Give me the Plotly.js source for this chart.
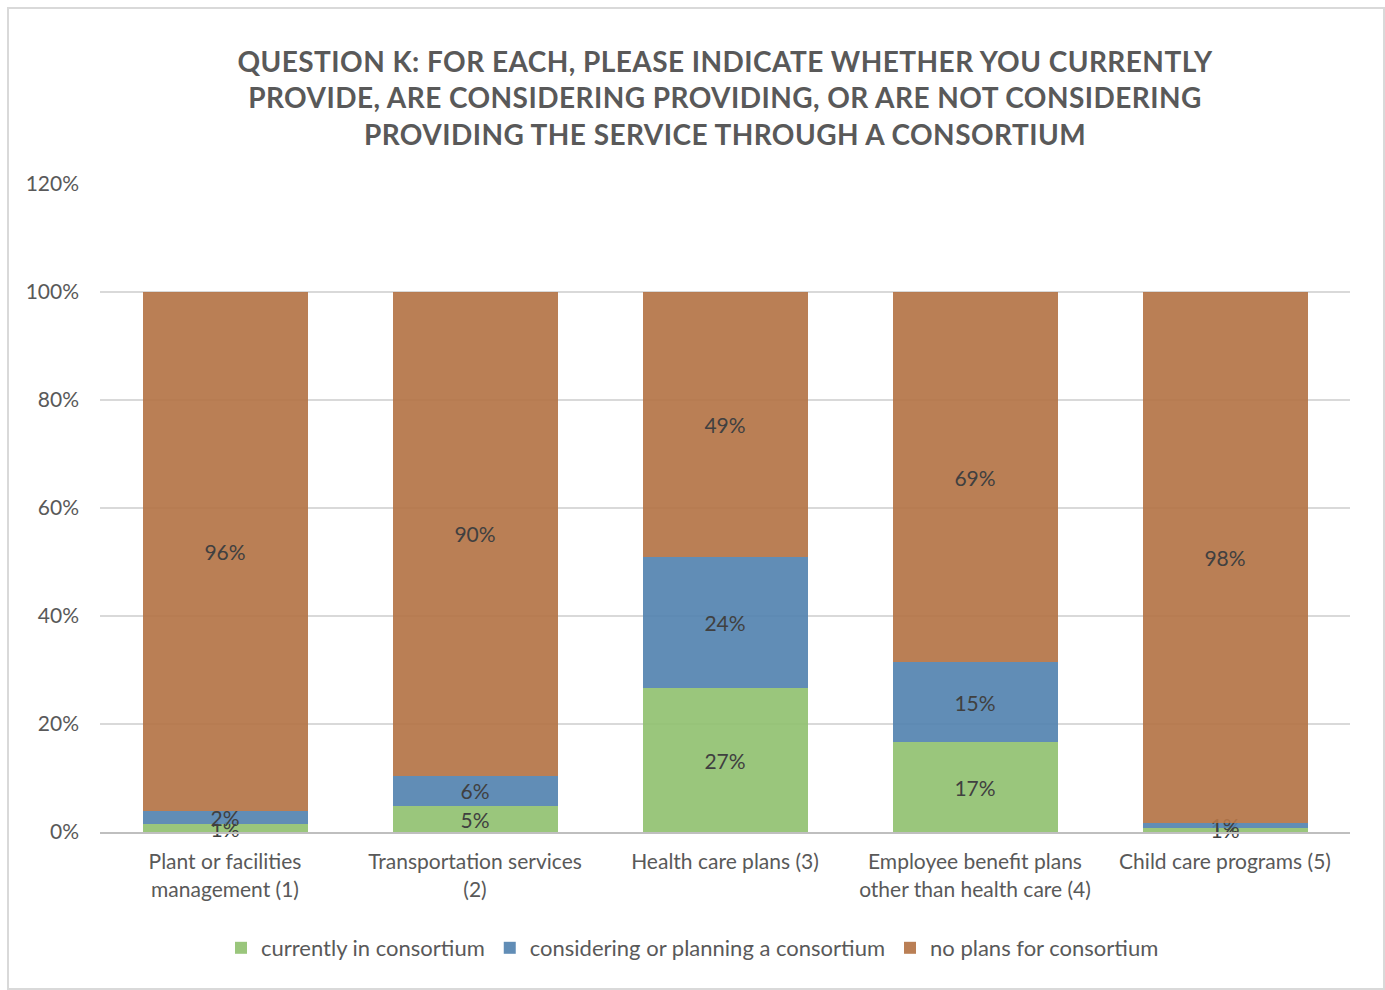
<!DOCTYPE html>
<html>
<head>
<meta charset="utf-8">
<script src="https://cdn.plot.ly/plotly-3.0.1.min.js"></script>
<style>
body{margin:0;padding:0;background:#fff;}
#wrap{position:relative;width:1385px;height:990px;}
#chart{position:absolute;left:0;top:0;width:1385px;height:990px;}
#frame{position:absolute;left:7px;top:7px;width:1374px;height:979px;border:2px solid #d9d9d9;pointer-events:none;}
.gtitle{letter-spacing:0.45px;}
</style>
</head>
<body>
<div id="wrap"><div id="chart"></div><div id="frame"></div></div>
<script>
var categories = ["Plant or facilities<br>management (1)", "Transportation services<br>(2)", "Health care plans (3)", "Employee benefit plans<br>other than health care (4)", "Child care programs (5)"];
var currentlyIn = [1.4, 4.8, 26.6, 16.6, 0.8];
var considering = [2.4, 5.6, 24.4, 14.8, 0.8];
var noPlans = [96.2, 89.6, 49.0, 68.6, 98.4];
var seriesNames = ["currently in consortium", "considering or planning a consortium", "no plans for consortium"];
var yTickVals = [0, 20, 40, 60, 80, 100, 120];

var colors = ["rgba(145,193,113,0.92)", "rgba(84,131,176,0.92)", "rgba(180,116,71,0.92)"];
var font = "Lato, 'Open Sans', sans-serif";

function mk(vals, name, color) {
  return {
    type: "bar",
    x: categories,
    y: vals,
    name: name,
    marker: {color: color, line: {width: 0}},
    texttemplate: "%{y:.0f}%",
    textposition: "inside",
    insidetextanchor: "middle",
    constraintext: "none",
    cliponaxis: false,
    textangle: 0,
    textfont: {family: font, size: 21, color: "#404040"},
    hoverinfo: "skip"
  };
}

var data = [
  mk(currentlyIn, seriesNames[0], colors[0]),
  mk(considering, seriesNames[1], colors[1]),
  mk(noPlans, seriesNames[2], colors[2])
];

var layout = {
  width: 1385,
  height: 990,
  barmode: "stack",
  bargap: 0.34,
  paper_bgcolor: "#ffffff",
  plot_bgcolor: "#ffffff",
  margin: {l: 100, r: 35, t: 184, b: 158},
  title: {
    text: "QUESTION K: FOR EACH, PLEASE INDICATE WHETHER YOU CURRENTLY<br>PROVIDE, ARE CONSIDERING PROVIDING, OR ARE NOT CONSIDERING<br>PROVIDING THE SERVICE THROUGH A CONSORTIUM",
    font: {family: font, size: 28, color: "#595959", weight: "bold"},
    x: 0.5,
    xref: "paper",
    y: 1 - 72/990,
    yref: "container",
    yanchor: "top"
  },
  xaxis: {
    type: "category",
    tickfont: {family: font, size: 21, color: "#595959"},
    showline: true,
    linecolor: "#bfbfbf",
    linewidth: 2,
    ticks: "",
    showgrid: false,
    zeroline: false,
    ticklabelstandoff: 10,
    fixedrange: true
  },
  yaxis: {
    range: [0, 120],
    tickvals: yTickVals,
    ticktext: yTickVals.map(function(v){return v + "%";}),
    tickfont: {family: font, size: 21, color: "#595959"},
    showgrid: true,
    gridcolor: "#d9d9d9",
    gridwidth: 1.5,
    zeroline: false,
    ticks: "",
    ticklabelstandoff: 20,
    fixedrange: true
  },
  legend: {
    orientation: "h",
    x: 0.5,
    xanchor: "center",
    xref: "container",
    y: 1 - 948/990,
    yref: "container",
    yanchor: "middle",
    font: {family: font, size: 22, color: "#595959"},
    traceorder: "normal",
    itemwidth: 30
  },
  showlegend: true
};

Plotly.newPlot("chart", data, layout, {displayModeBar: false, staticPlot: true});
</script>
</body>
</html>
